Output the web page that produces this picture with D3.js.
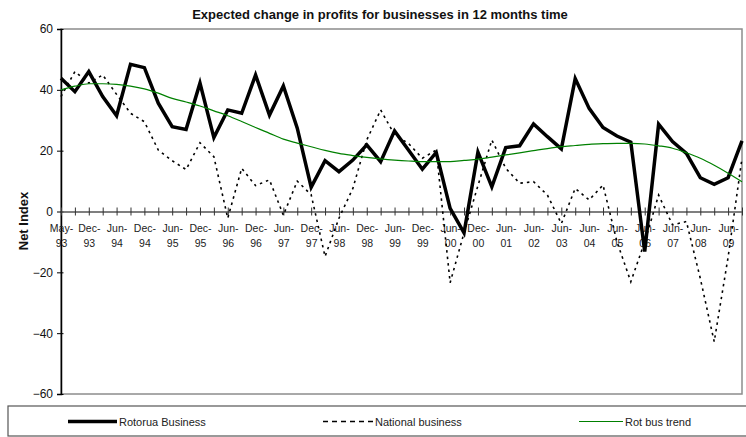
<!DOCTYPE html>
<html><head><meta charset="utf-8">
<script src="https://cdn.jsdelivr.net/npm/d3@7"></script>
<style>body{margin:0;background:#fff} svg{display:block}</style>
</head><body><svg id="c" width="746" height="437"></svg>
<script>
const categories = ["May-93","Sep-93","Dec-93","Mar-94","Jun-94","Sep-94","Dec-94","Mar-95","Jun-95","Sep-95",
  "Dec-95","Mar-96","Jun-96","Sep-96","Dec-96","Mar-97","Jun-97","Sep-97","Dec-97","Mar-98",
  "Jun-98","Sep-98","Dec-98","Mar-99","Jun-99","Sep-99","Dec-99","Mar-00","Jun-00","Sep-00",
  "Dec-00","Mar-01","Jun-01","Dec-01","Jun-02","Dec-02","Jun-03","Dec-03","Jun-04","Dec-04",
  "Jun-05","Dec-05","Jun-06","Dec-06","Jun-07","Dec-07","Jun-08","Dec-08","Jun-09","Dec-09"];
const rotorua = [43.8,39.4,46,37.8,31.5,48.4,47.3,35.6,27.9,27,
  42.2,24.3,33.4,32.3,44.9,31.7,41.3,27.4,8.0,16.7,
  13.1,16.9,21.9,16.4,26.5,20.2,13.9,19.4,1.0,-7.0,
  19.5,8.1,21,21.6,28.8,24.6,20.6,43.7,33.9,27.6,
  24.8,22.8,-13.2,28.7,23,19.1,11.1,8.9,11.1,23.2];
const national = [37.8,46,42.2,44.9,38.5,32.3,29.5,20.2,16.7,13.8,
  22.6,18,-2.2,14.2,8.5,10.4,-1.2,10,5.5,-14.8,
  -2.2,7.6,23.5,33.4,25.2,22.4,17.5,20.2,-23.4,-7,
  8.5,23.5,14.2,9.3,9.8,5.4,-4,7.6,3.8,8.7,
  -9.9,-23.1,-10,5.4,-4.4,-3.3,-22,-42.8,-15,17.5];
const trend = [40,41.2,42,42,41.8,41.2,40.3,38.9,37.2,36,
  34.7,33.1,31.5,29.6,27.6,25.7,23.8,22.5,21.3,20.1,
  19.1,18.4,17.8,17.3,16.9,16.6,16.4,16.4,16.4,16.8,
  17.2,17.9,18.6,19.3,20,20.7,21.3,21.7,22.1,22.3,
  22.4,22.4,22.2,21.6,20.8,19.3,17.5,15.2,12.6,9.8];
const yTicks = [-60,-40,-20,0,20,40,60];
const seriesNames = ["Rotorua Business","National business","Rot bus trend"];
const titleText = "Expected change in profits for businesses in 12 months time";
const yTitle = "Net Index";

const svg = d3.select("#c");
const L = 61, R = 742, T = 29, B = 394;
const x = d3.scalePoint().domain(categories).range([L, R]);
const y = d3.scaleLinear().domain([-60, 60]).range([B, T]);
const font = "'Liberation Sans', Arial, sans-serif";
const narrow = "'Liberation Sans Narrow', 'Liberation Sans', Arial, sans-serif";

svg.append("rect").attr("width",746).attr("height",437).attr("fill","#fff");

// plot border
svg.append("rect").attr("x",L).attr("y",T).attr("width",R-L).attr("height",B-T)
  .attr("fill","#fff").attr("stroke","#8c8c8c").attr("stroke-width",1.5);

// title
svg.append("text").attr("x",380).attr("y",19).attr("text-anchor","middle")
  .attr("font-family",font).attr("font-weight","bold").attr("font-size",13)
  .attr("fill","#111").text(titleText);

// y axis
const ya = svg.append("g").attr("transform",`translate(${L},0)`)
  .call(d3.axisLeft(y).tickValues(yTicks).tickSize(4).tickPadding(4).tickFormat(d3.format("d")));
ya.select(".domain").attr("stroke","#000").attr("stroke-width",1.5);
ya.selectAll(".tick line").attr("stroke","#000");
ya.selectAll(".tick").append("line").attr("x1",0).attr("x2",2.5).attr("stroke","#000");
ya.selectAll(".tick text").attr("font-family",font).attr("font-size",12).attr("fill","#111");

svg.append("text").attr("transform",`translate(28,221) rotate(-90)`).attr("text-anchor","middle")
  .attr("font-family",font).attr("font-weight","bold").attr("font-size",13)
  .attr("fill","#111").text(yTitle);

// x axis at zero
const xa = svg.append("g").attr("transform",`translate(0,${y(0)})`)
  .call(d3.axisBottom(x).tickSize(0).tickFormat(""));
xa.select(".domain").attr("stroke","#555").attr("stroke-width",1.5);
xa.selectAll(".tick").append("line").attr("y1",-4).attr("y2",4).attr("stroke","#333");
xa.selectAll(".tick").each(function(d,i){
  if (i % 2 !== 0) return;
  const parts = d.split("-");
  const t = d3.select(this).append("text").attr("text-anchor","middle")
    .attr("font-family",narrow).attr("font-size",10.5).attr("fill","#222");
  t.append("tspan").attr("x",0).attr("y",20).text(parts[0]+"-");
  t.append("tspan").attr("x",0).attr("y",35).text(parts[1]);
});

// series
const line = arr => d3.line().x((d,i)=>x(categories[i])).y(d=>y(d))(arr);
svg.append("path").attr("d",line(rotorua)).attr("fill","none").attr("stroke","#000")
  .attr("stroke-width",3.5).attr("stroke-linejoin","miter");
svg.append("path").attr("d",line(national)).attr("fill","none").attr("stroke","#000")
  .attr("stroke-width",1.6).attr("stroke-dasharray","2.5,4");
svg.append("path").attr("d",d3.line().curve(d3.curveMonotoneX).x((d,i)=>x(categories[i])).y(d=>y(d))(trend))
  .attr("fill","none").attr("stroke","#008000").attr("stroke-width",1.2);

// legend
svg.append("rect").attr("x",8).attr("y",406).attr("width",745).attr("height",30)
  .attr("fill","#fff").attr("stroke","#555").attr("stroke-width",1.2);
const legItems = [
  {x1:68,x2:117,w:3.5,dash:null,c:"#000"},
  {x1:323,x2:373,w:1.5,dash:"5,4",c:"#000"},
  {x1:579,x2:623,w:1.2,dash:null,c:"#008000"}
];
legItems.forEach((it,i)=>{
  svg.append("line").attr("x1",it.x1).attr("x2",it.x2).attr("y1",421.5).attr("y2",421.5)
    .attr("stroke",it.c).attr("stroke-width",it.w).attr("stroke-dasharray",it.dash);
  svg.append("text").attr("x",it.x2+2).attr("y",425.5).attr("font-family",font)
    .attr("font-size",11).attr("fill","#222").text(seriesNames[i]);
});
</script></body></html>
